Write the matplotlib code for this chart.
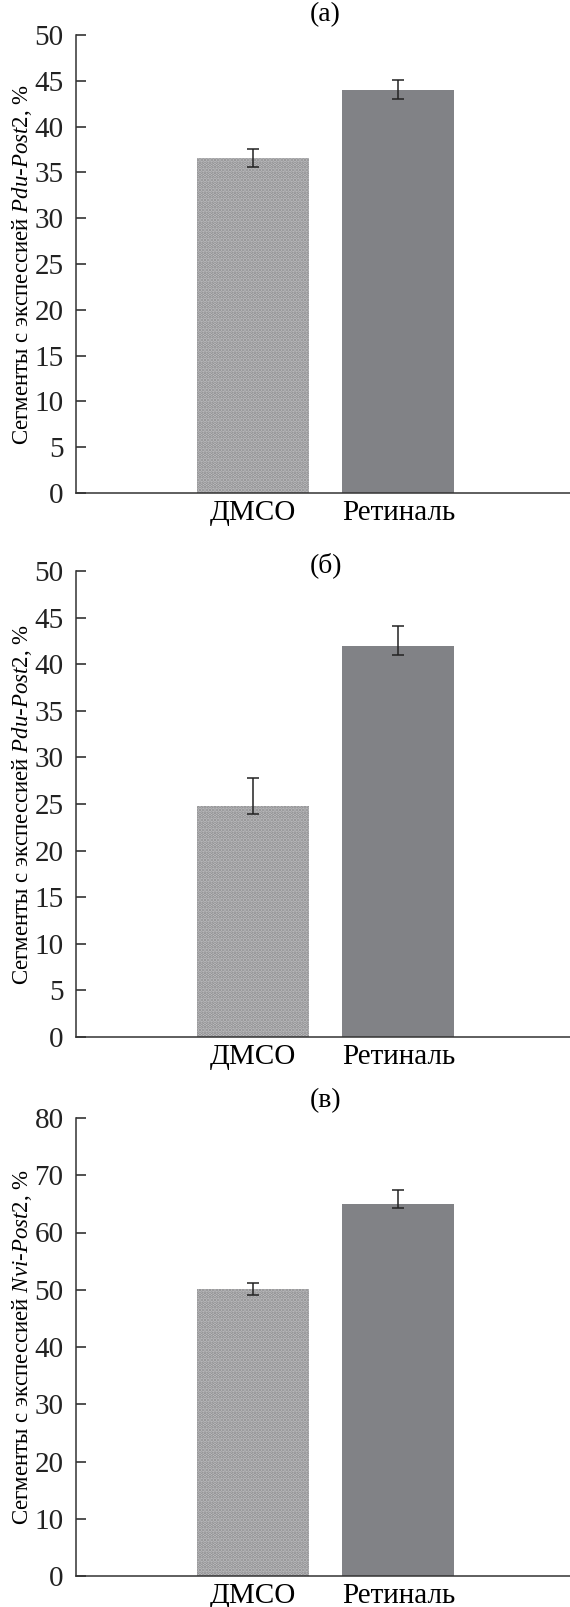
import numpy as np
import matplotlib
matplotlib.use("Agg")
import matplotlib.pyplot as plt

plt.rcParams['font.family'] = ['Liberation Serif', 'DejaVu Serif']
plt.rcParams['mathtext.fontset'] = 'custom'
plt.rcParams['mathtext.rm'] = 'Liberation Serif'
plt.rcParams['mathtext.it'] = 'Liberation Serif:italic'
plt.rcParams['hatch.linewidth'] = 1.8

# данные
groups = ['ДМСО', 'Ретиналь']
panel_titles = ['(а)', '(б)', '(в)']
genes = ['Pdu', 'Pdu', 'Nvi']

vals_a = [36.6, 44.0]
err_lo_a = [1.0, 1.0]
err_hi_a = [1.0, 1.1]

vals_b = [24.8, 42.0]
err_lo_b = [0.9, 1.0]
err_hi_b = [3.0, 2.1]

vals_c = [50.1, 65.0]
err_lo_c = [1.1, 0.8]
err_hi_c = [1.0, 2.4]

ymax = [50, 50, 80]
ystep = [5, 5, 10]

W, H = 570, 1607
fig = plt.figure(figsize=(W / 100, H / 100), dpi=100)

# положение осей в пикселях: (верх, низ)
boxes = [(35, 493), (571, 1037), (1118, 1576)]
title_y = [15, 565, 1101]
left = 76

data = [(vals_a, err_lo_a, err_hi_a), (vals_b, err_lo_b, err_hi_b),
        (vals_c, err_lo_c, err_hi_c)]

x = np.arange(len(groups))
for i, (vals, lo, hi) in enumerate(data):
    top, bot = boxes[i]
    ax = fig.add_axes([left / W, 1 - bot / H, (W - left) / W, (bot - top) / H])
    ax.bar(x[0], vals[0], width=0.77, color='#c6c6c8', edgecolor='#88888a',
           linewidth=0, hatch='.....')
    ax.bar(x[1], vals[1], width=0.77, color='#818286', linewidth=0)
    ax.errorbar(x, vals, yerr=[lo, hi], fmt='none', ecolor='#222222',
                elinewidth=1.1, capsize=4.5, capthick=1.1)
    ax.set_xlim(-1.216, 2.18)
    ax.set_ylim(0, ymax[i])
    ax.set_yticks(np.arange(0, ymax[i] + 1, ystep[i]))
    ax.set_xticks(x)
    ax.set_xticklabels(groups, fontsize=21)
    ax.tick_params(axis='x', length=0, pad=5)
    ax.tick_params(axis='y', direction='in', length=7, width=1.1,
                   labelsize=21, pad=9, colors='#222222')
    for s in ['top', 'right']:
        ax.spines[s].set_visible(False)
    for s in ['left', 'bottom']:
        ax.spines[s].set_color('#333333')
        ax.spines[s].set_linewidth(1.1)
    ax.set_ylabel('Сегменты с экспессией $\\it{%s}$-$\\it{Post2}$, %%' % genes[i],
                  fontsize=16.5)
    ax.yaxis.set_label_coords(-(left - 34) / (W - left), 0.5)
    ax.text(0.5, ymax[i] + (top - title_y[i]) / (bot - top) * ymax[i],
            panel_titles[i], ha='center', va='center', fontsize=20)

fig.savefig('out.png', dpi=100)
